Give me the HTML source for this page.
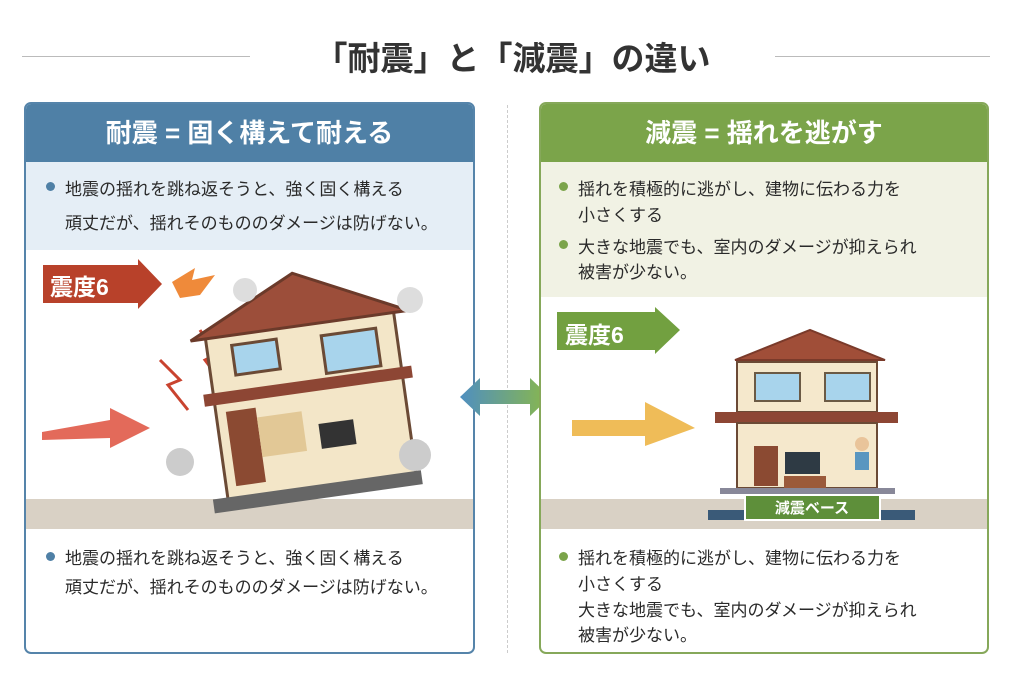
<!DOCTYPE html>
<html><head><meta charset="utf-8"><style>
*{margin:0;padding:0;box-sizing:border-box}
body{width:1024px;height:683px;background:#fff;position:relative;overflow:hidden;font-family:"Liberation Sans","Noto Sans CJK JP",sans-serif;color:#2a2a2a}
.abs{position:absolute}
.t{font-size:17px;white-space:nowrap}
</style></head><body>
<div class="abs" style="left:22px;top:56px;width:228px;height:1px;background:#bbb"></div>
<div class="abs" style="left:775px;top:56px;width:215px;height:1px;background:#bbb"></div>
<div class="abs" style="left:250px;top:32px;width:525px;text-align:center;font-size:33px;font-weight:bold;color:#333">「耐震」と「減震」の違い</div>
<div class="abs" style="left:507px;top:105px;height:548px;border-left:1px dashed #ccc"></div>

<div class="abs" style="left:24px;top:102px;width:451px;height:552px;border:2px solid #5584aa;border-radius:7px;overflow:hidden;background:#fff">
 <div class="abs" style="left:0;top:0;width:100%;height:58px;background:#4f80a6;color:#fff;font-size:26px;font-weight:bold;text-align:center;line-height:58px">耐震 = 固く構えて耐える</div>
 <div class="abs" style="left:0;top:58px;width:100%;height:88px;background:#e5eef6"></div>
 <div class="abs" style="left:0;top:395px;width:100%;height:30px;background:#d9d1c5"></div>
</div>
<div class="abs" style="left:46px;top:182px;width:9px;height:9px;border-radius:50%;background:#4f80a6"></div>
<div class="abs t" style="left:65px;top:175px">地震の揺れを跳ね返そうと、強く固く構える</div>
<div class="abs t" style="left:65px;top:209px">頑丈だが、揺れそのもののダメージは防げない。</div>
<div class="abs" style="left:46px;top:552px;width:9px;height:9px;border-radius:50%;background:#4f80a6"></div>
<div class="abs t" style="left:65px;top:544px">地震の揺れを跳ね返そうと、強く固く構える</div>
<div class="abs t" style="left:65px;top:573px">頑丈だが、揺れそのもののダメージは防げない。</div>

<svg class="abs" style="left:0;top:0" width="1024" height="683">
 <polygon points="43,265 138,265 138,259 162,284 138,309 138,303 43,303" fill="#b8412a"/>
 <polygon points="172,282 195,268 192,280 215,275 200,295 180,298" fill="#ef8a3a"/>
 <polygon points="42,432 110,420 110,408 150,428 110,448 110,438 42,440" fill="#e36a5a"/>
 <path d="M160,360 l20,20 -12,5 20,25 M200,330 l15,25 -10,5 15,20" stroke="#c9432f" stroke-width="3" fill="none"/>
 <g transform="rotate(-8 310 400)">
  <rect x="215" y="320" width="190" height="170" fill="#f3e6c8" stroke="#6b4a35" stroke-width="3"/>
  <polygon points="200,325 310,272 420,325" fill="#9c4e3a" stroke="#6b3a2a" stroke-width="3"/>
  <rect x="240" y="335" width="45" height="30" fill="#a8d4ec" stroke="#6b4a35" stroke-width="3"/>
  <rect x="330" y="338" width="55" height="38" fill="#a8d4ec" stroke="#6b4a35" stroke-width="3"/>
  <rect x="205" y="380" width="210" height="12" fill="#8d4634"/>
  <rect x="225" y="400" width="30" height="75" fill="#8b4a32"/>
  <rect x="255" y="410" width="45" height="40" fill="#e2c896"/>
  <rect x="315" y="425" width="35" height="25" fill="#333"/>
  <rect x="200" y="485" width="210" height="14" fill="#666"/>
 </g>
 <circle cx="180" cy="462" r="14" fill="#ccc"/><circle cx="415" cy="455" r="16" fill="#ccc"/>
 <circle cx="245" cy="290" r="12" fill="#ddd"/><circle cx="410" cy="300" r="13" fill="#ddd"/>
 <defs><linearGradient id="g" x1="0" x2="1"><stop offset="0" stop-color="#4f8fc0"/><stop offset="1" stop-color="#8ab84a"/></linearGradient></defs>
 <polygon points="460,397 480,378 480,390 530,390 530,378 550,397 530,416 530,404 480,404 480,416" fill="url(#g)"/>
</svg>

<div class="abs" style="left:539px;top:102px;width:450px;height:552px;border:2px solid #86a85a;border-radius:7px;overflow:hidden;background:#fff">
 <div class="abs" style="left:0;top:0;width:100%;height:58px;background:#7ba44a;color:#fff;font-size:26px;font-weight:bold;text-align:center;line-height:58px">減震 = 揺れを逃がす</div>
 <div class="abs" style="left:0;top:58px;width:100%;height:135px;background:#f1f2e4"></div>
 <div class="abs" style="left:0;top:395px;width:100%;height:30px;background:#d9d1c5"></div>
</div>
<div class="abs" style="left:559px;top:182px;width:9px;height:9px;border-radius:50%;background:#7ba44a"></div>
<div class="abs t" style="left:578px;top:175px">揺れを積極的に逃がし、建物に伝わる力を</div>
<div class="abs t" style="left:578px;top:201px">小さくする</div>
<div class="abs" style="left:559px;top:240px;width:9px;height:9px;border-radius:50%;background:#7ba44a"></div>
<div class="abs t" style="left:578px;top:233px">大きな地震でも、室内のダメージが抑えられ</div>
<div class="abs t" style="left:578px;top:258px">被害が少ない。</div>
<div class="abs" style="left:559px;top:552px;width:9px;height:9px;border-radius:50%;background:#7ba44a"></div>
<div class="abs t" style="left:578px;top:544px">揺れを積極的に逃がし、建物に伝わる力を</div>
<div class="abs t" style="left:578px;top:570px">小さくする</div>
<div class="abs t" style="left:578px;top:596px">大きな地震でも、室内のダメージが抑えられ</div>
<div class="abs t" style="left:578px;top:621px">被害が少ない。</div>

<svg class="abs" style="left:0;top:0" width="1024" height="683">
 <polygon points="557,312 655,312 655,307 680,330 655,354 655,350 557,350" fill="#72a040"/>
 <polygon points="572,420 645,420 645,402 695,428 645,446 645,436 572,436" fill="#efbc58"/>
 <polygon points="735,360 810,330 885,360" fill="#a04e38" stroke="#7a3a2a" stroke-width="2"/>
 <rect x="737" y="362" width="140" height="50" fill="#f5e8cc" stroke="#6b4a35" stroke-width="2"/>
 <rect x="755" y="373" width="45" height="28" fill="#a8d4ec" stroke="#6b5a45" stroke-width="2"/>
 <rect x="825" y="373" width="45" height="28" fill="#a8d4ec" stroke="#6b5a45" stroke-width="2"/>
 <rect x="715" y="412" width="183" height="11" fill="#8d4634"/>
 <rect x="737" y="423" width="140" height="65" fill="#f5e8cc" stroke="#6b4a35" stroke-width="2"/>
 <rect x="754" y="446" width="24" height="40" fill="#8b4a32"/>
 <rect x="785" y="452" width="35" height="22" fill="#2e3a44"/>
 <rect x="784" y="476" width="42" height="12" fill="#9b5a3a"/>
 <circle cx="862" cy="444" r="7" fill="#e9c49a"/><rect x="855" y="452" width="14" height="18" fill="#5a96c0"/>
 <rect x="720" y="488" width="175" height="6" fill="#889"/>
 <rect x="708" y="510" width="40" height="10" fill="#3a5a78"/><rect x="875" y="510" width="40" height="10" fill="#3a5a78"/>
 <rect x="745" y="495" width="135" height="25" fill="#5e8f3a" stroke="#fff" stroke-width="2"/>
 <text x="812" y="513" font-size="15" fill="#fff" text-anchor="middle" font-weight="bold" font-family="Liberation Sans,Noto Sans CJK JP,sans-serif">減震ベース</text>
</svg>
<div class="abs" style="left:50px;top:268px;font-size:23px;font-weight:bold;color:#fff">震度6</div>
<div class="abs" style="left:565px;top:316px;font-size:23px;font-weight:bold;color:#fff">震度6</div>
</body></html>
